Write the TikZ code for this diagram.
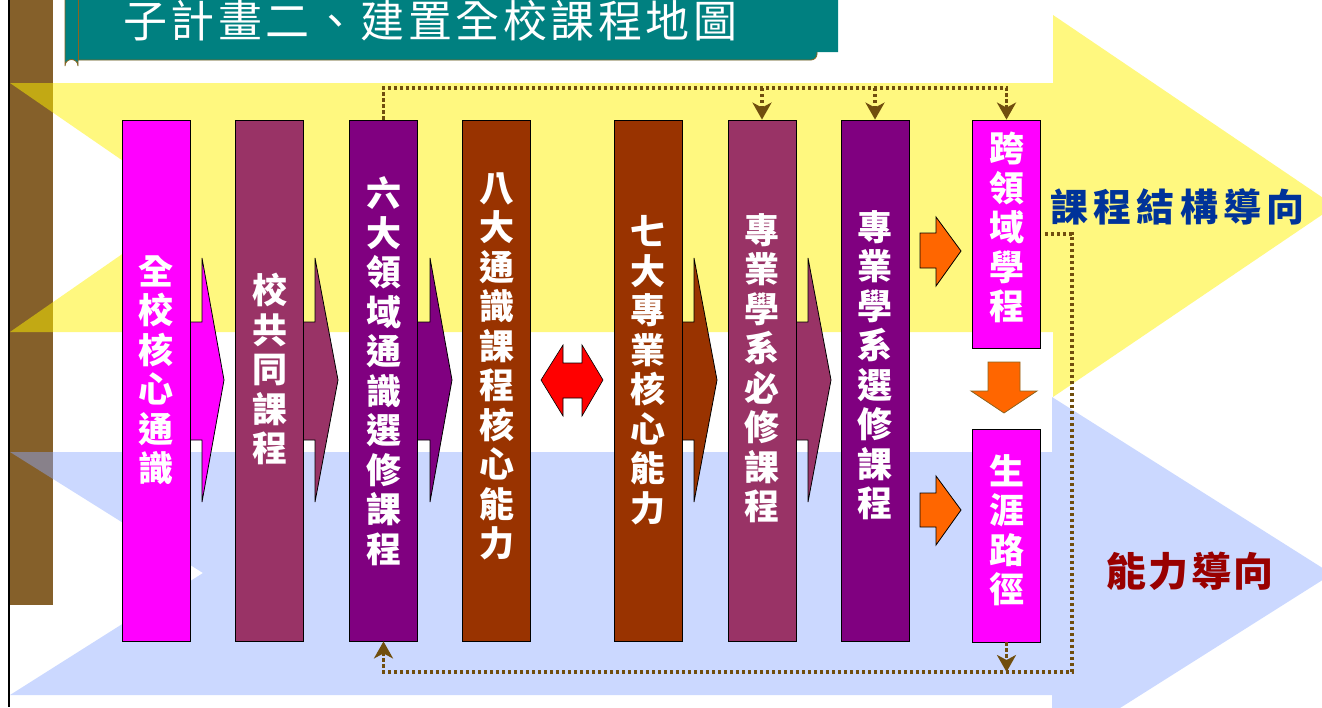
\documentclass[tikz,border=0pt]{standalone}
\usepackage{fontspec}
\usetikzlibrary{arrows.meta}
\newfontfamily\cjk{Noto Sans CJK TC}
\definecolor{mag}{HTML}{FF00FF}
\definecolor{plum}{HTML}{993366}
\definecolor{purp}{HTML}{800080}
\definecolor{rust}{HTML}{993300}
\definecolor{orng}{HTML}{FF6600}
\definecolor{tealbg}{HTML}{008080}
\definecolor{barbrown}{RGB}{133,96,42}
\definecolor{bluebase}{RGB}{140,170,255}
\definecolor{dotbrown}{RGB}{112,78,14}
\definecolor{navylbl}{RGB}{0,51,153}
\definecolor{redlbl}{RGB}{153,0,0}
\definecolor{bannerline}{RGB}{140,100,30}
\tikzset{
  box/.style={draw=black, line width=0.8pt, minimum width=68pt, inner sep=0pt, text=white,
    font=\cjk\bfseries\fontsize{35}{39.5}\selectfont, align=center},
  lift/.style={text depth=#1pt},
  chev/.style={draw=black, line width=0.8pt},
  dotline/.style={draw=dotbrown, line width=3.2pt, dash pattern=on 3.2pt off 2.8pt},
  dotarrow/.style={dotline, -{Stealth[length=17pt,width=19pt,inset=5pt]}},
  oarrow/.style={fill=orng, draw=black, line width=0.8pt},
}
\begin{document}
\begin{tikzpicture}[x=1pt,y=-1pt]
\useasboundingbox (0,0) rectangle (1322,707);
\begin{scope}
  \clip (0,0) rectangle (1322,707);
  \fill[white] (0,0) rectangle (1322,707);
  \fill[barbrown] (10,0) rectangle (53,605);
  % yellow arrow
  \fill[yellow, opacity=0.5] (10,83) -- (1053,83) -- (1053,15) -- (1335,206) -- (1053,397) -- (1053,332) -- (10,332) -- (190,207) -- cycle;
  % blue arrow
  \fill[bluebase, opacity=0.45] (10,452) -- (1052,452) -- (1052,397) -- (1332,574) -- (1052,751) -- (1052,695) -- (10,695) -- (203,573) -- cycle;
\end{scope}
\draw[black, line width=2pt] (9,0) -- (9,707);
% title banner
\fill[tealbg] (65,0) -- (65,66) arc[start angle=180, end angle=360, radius=6.5] -- (78,60) -- (811,60) arc[start angle=90, end angle=0, radius=6] -- (817,52) -- (838,52) -- (838,0) -- cycle;
\draw[bannerline, line width=0.8pt] (65,0) -- (65,66) arc[start angle=180, end angle=360, radius=6.5] -- (78,60) -- (811,60) arc[start angle=90, end angle=0, radius=6] -- (817,52);
\draw[bannerline, line width=0.6pt] (78,60) -- (78,0);
\node[font=\cjk\fontsize{44}{44}\selectfont\addfontfeatures{LetterSpace=8}, text=white, anchor=base west, inner sep=0pt] (title) at (123,37) {子計畫二、建置全校課程地圖};
% chevrons
\path[chev, fill=mag] (184,322) -- (202,322) -- (202,258) -- (224,380) -- (202,502) -- (202,440) -- (184,440) -- cycle;
\path[chev, fill=plum] (297,322) -- (315,322) -- (315,258) -- (338,380) -- (315,502) -- (315,440) -- (297,440) -- cycle;
\path[chev, fill=purp] (412,322) -- (430,322) -- (430,258) -- (452,380) -- (430,502) -- (430,440) -- (412,440) -- cycle;
\path[chev, fill=rust] (676,322) -- (694,322) -- (694,258) -- (717,380) -- (694,502) -- (694,440) -- (676,440) -- cycle;
\path[chev, fill=plum] (790,322) -- (808,322) -- (808,258) -- (831,380) -- (808,502) -- (808,440) -- (790,440) -- cycle;
% boxes
\node[box, lift=24, fill=mag,  minimum height=521pt] (b1) at (156,380.5) {全\\校\\核\\心\\通\\識};
\node[box, lift=26, fill=plum, minimum height=521pt] (b2) at (269.5,380.5) {校\\共\\同\\課\\程};
\node[box, lift=22, fill=purp, minimum height=521pt] (b3) at (383.5,380.5) {六\\大\\領\\域\\通\\識\\選\\修\\課\\程};
\node[box, lift=32, fill=rust, minimum height=521pt] (b4) at (496.5,380.5) {八\\大\\通\\識\\課\\程\\核\\心\\能\\力};
\node[box, lift=24, fill=rust, minimum height=521pt] (b5) at (648,380.5) {七\\大\\專\\業\\核\\心\\能\\力};
\node[box, lift=28, fill=plum, minimum height=521pt] (b6) at (762,380.5) {專\\業\\學\\系\\必\\修\\課\\程};
\node[box, lift=34, fill=purp, minimum height=521pt] (b7) at (875,380.5) {專\\業\\學\\系\\選\\修\\課\\程};
\node[box, lift=16, fill=mag,  minimum height=228pt] (b8) at (1006.5,234) {跨\\領\\域\\學\\程};
\node[box, lift=14, fill=mag,  minimum height=213pt] (b9) at (1006.5,535.5) {生\\涯\\路\\徑};
% red double arrow
\path[fill=red, draw=black, line width=0.6pt] (541,380) -- (563,345) -- (563,363) -- (582,363) -- (582,345) -- (603,380) -- (582,416) -- (582,398) -- (563,398) -- (563,416) -- cycle;
% orange arrows
\path[oarrow] (920,233) -- (936,233) -- (936,217) -- (961,251) -- (936,286) -- (936,268) -- (920,268) -- cycle;
\path[oarrow] (920,493) -- (936,493) -- (936,476) -- (961,510) -- (936,545) -- (936,527) -- (920,527) -- cycle;
\path[oarrow, draw=bannerline] (988,362) -- (1020,362) -- (1020,391) -- (1037,391) -- (1004,413) -- (971,391) -- (988,391) -- cycle;
% dotted connectors
\coordinate (topy) at (0,88);
\coordinate (br) at (1072,672);
\draw[dotarrow] (b3.north) |- (b8.north |- topy) -- (b8.north);
\draw[dotarrow] (b6.north |- topy) -- (b6.north);
\draw[dotarrow] (b7.north |- topy) -- (b7.north);
\draw[dotarrow, shorten <=4pt] (b8.east) -| (br) -| (b3.south);
\draw[dotarrow] (b9.south) -- (b9.south |- br);
% side labels
\node[font=\cjk\bfseries\fontsize{38}{38}\selectfont\addfontfeatures{LetterSpace=14}, text=navylbl, anchor=base west, inner sep=0pt] (lbl1) at (1050,221) {課程結構導向};
\node[font=\cjk\bfseries\fontsize{40}{40}\selectfont\addfontfeatures{LetterSpace=6}, text=redlbl, anchor=base west, inner sep=0pt] (lbl2) at (1106,586) {能力導向};
\end{tikzpicture}
\end{document}
